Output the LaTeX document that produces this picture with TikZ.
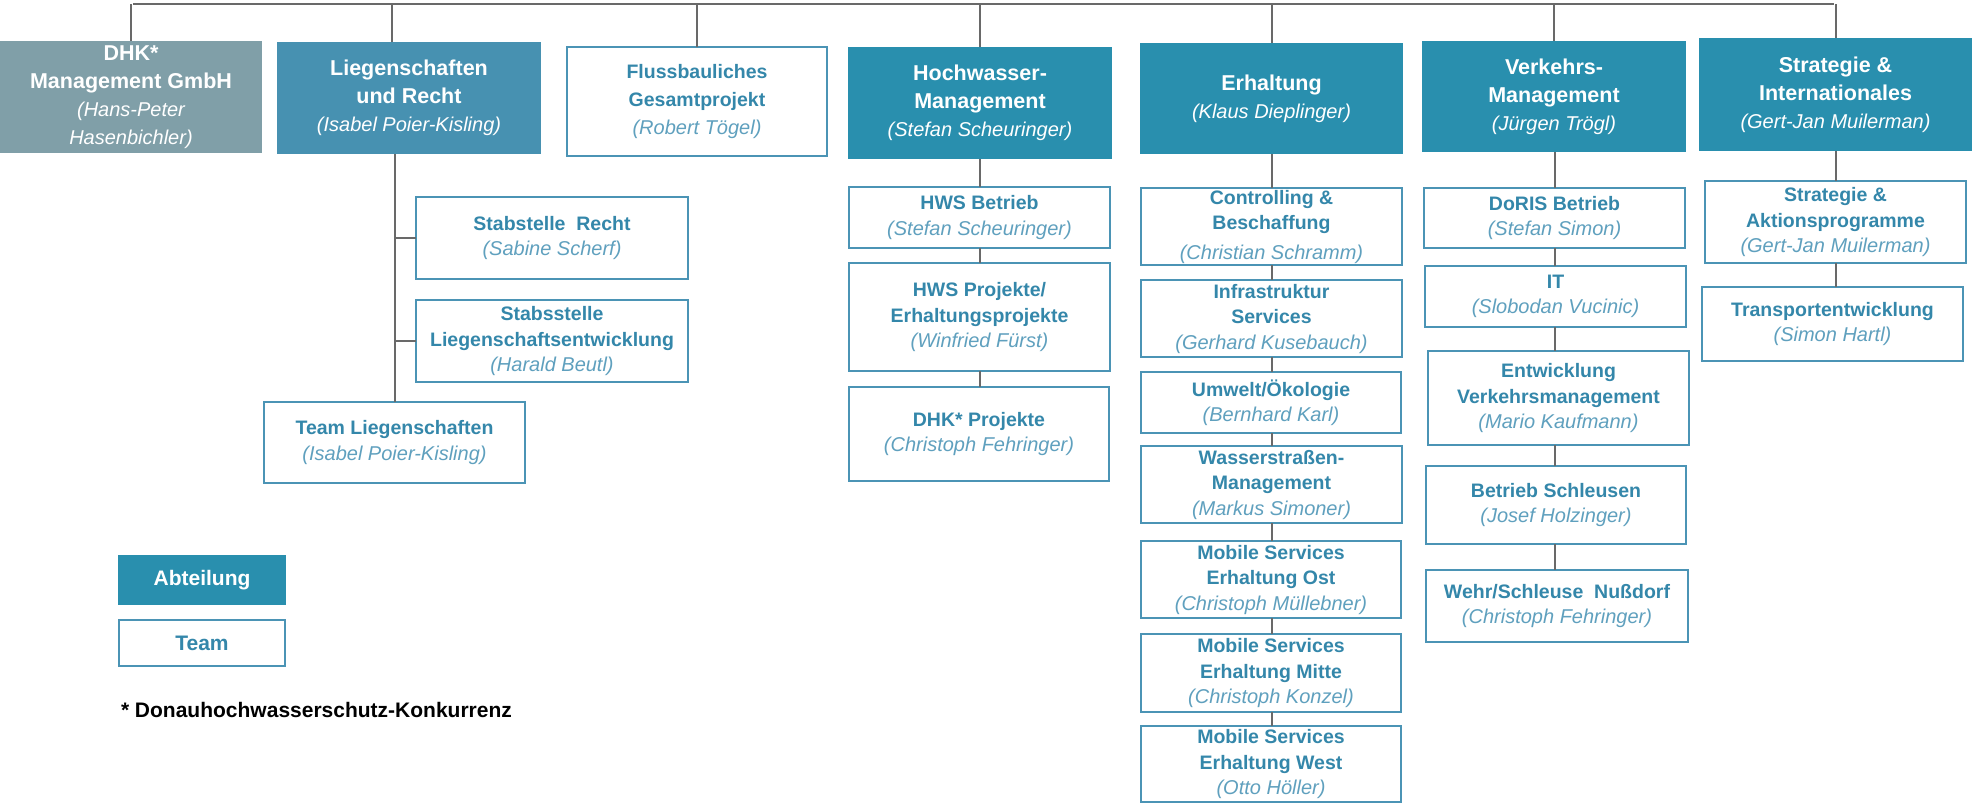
\documentclass[tikz,border=0pt]{standalone}
\usepackage{fontspec}
\setmainfont{Liberation Sans}
\definecolor{abt}{RGB}{41,143,174}
\definecolor{lieg}{RGB}{71,145,177}
\definecolor{dhkc}{RGB}{128,159,168}
\definecolor{tborder}{RGB}{75,148,181}
\definecolor{ttext}{RGB}{52,135,170}
\definecolor{ntext}{RGB}{95,160,190}
\definecolor{conn}{RGB}{105,105,105}
\newcommand\nmA[1]{{\mdseries\itshape\fontsize{20}{26}\selectfont #1}}
\newcommand\nmT[1]{{\mdseries\itshape\color{ntext}\fontsize{20}{26}\selectfont #1}}
\newcommand\bx[7]{\node[#2, minimum width={#5-#3}, minimum height={#6-#4}] (#1) at ({(#3+#5)/2},{(#4+#6)/2}) {#7};}
\begin{document}
\begin{tikzpicture}[x=1pt,y=-1pt,
  every node/.style={inner sep=0pt, outer sep=0pt, align=center, rectangle},
  deptbox/.style={fill=abt, text=white, font=\fontsize{21.5}{28}\selectfont\bfseries},
  liegbox/.style={deptbox, fill=lieg},
  dhkbox/.style={deptbox, fill=dhkc},
  teambox/.style={draw=tborder, line width=2.5pt, fill=white, text=ttext, font=\fontsize{19.5}{25.5}\selectfont\bfseries},
  fussbox/.style={teambox, font=\fontsize{19.5}{28}\selectfont\bfseries},
  link/.style={draw=conn, line width=2pt}
]
\useasboundingbox (0,0) rectangle (1972,804);

% bus
\coordinate (busL) at (133,4);
\coordinate (busR) at (1834,4);

% departments
\bx{dhk}{dhkbox}{0}{41}{262}{153}{DHK*\\Management GmbH\\\nmA{(Hans-Peter}\\\nmA{Hasenbichler)}}
\bx{lieg}{liegbox}{277}{42}{541}{154}{Liegenschaften\\und Recht\\\nmA{(Isabel Poier-Kisling)}}
\bx{fluss}{fussbox}{567}{47}{827}{156}{Flussbauliches\\Gesamtprojekt\\\nmT{(Robert Tögel)}}
\bx{hoch}{deptbox}{848}{47}{1112}{159}{Hochwasser-\\Management\\\nmA{(Stefan Scheuringer)}}
\bx{erh}{deptbox}{1140}{43}{1403}{154}{Erhaltung\\\nmA{(Klaus Dieplinger)}}
\bx{verk}{deptbox}{1422}{41}{1686}{152}{Verkehrs-\\Management\\\nmA{(Jürgen Trögl)}}
\bx{strat}{deptbox}{1699}{38}{1972}{151}{Strategie \&\\Internationales\\\nmA{(Gert-Jan Muilerman)}}

% Liegenschaften teams
\bx{recht}{teambox}{416}{197}{688}{279}{Stabstelle~~Recht\\\nmT{(Sabine Scherf)}}
\bx{lentw}{teambox}{416}{300}{688}{382}{Stabsstelle\\Liegenschaftsentwicklung\\\nmT{(Harald Beutl)}}
\bx{teaml}{teambox}{264}{402}{525}{483}{Team Liegenschaften\\\nmT{(Isabel Poier-Kisling)}}

% Hochwasser teams
\bx{hwsb}{teambox}{849}{187}{1110}{248}{HWS Betrieb\\\nmT{(Stefan Scheuringer)}}
\bx{hwsp}{teambox}{849}{263}{1110}{371}{HWS Projekte/\\Erhaltungsprojekte\\\nmT{(Winfried Fürst)}}
\bx{dhkp}{teambox}{849}{387}{1109}{481}{DHK* Projekte\\\nmT{(Christoph Fehringer)}}

% Erhaltung teams
\bx{ctrl}{teambox}{1141}{188}{1402}{265}{Controlling \&\\Beschaffung\\[4pt]\nmT{(Christian Schramm)}}
\bx{infra}{teambox}{1141}{280}{1402}{357}{Infrastruktur\\Services\\\nmT{(Gerhard Kusebauch)}}
\bx{umw}{teambox}{1141}{372}{1401}{433}{Umwelt/Ökologie\\\nmT{(Bernhard Karl)}}
\bx{wass}{teambox}{1141}{446}{1402}{523}{Wasserstraßen-\\Management\\\nmT{(Markus Simoner)}}
\bx{mso}{teambox}{1141}{541}{1401}{618}{Mobile Services\\Erhaltung Ost\\\nmT{(Christoph Müllebner)}}
\bx{msm}{teambox}{1141}{634}{1401}{712}{Mobile Services\\Erhaltung Mitte\\\nmT{(Christoph Konzel)}}
\bx{msw}{teambox}{1141}{726}{1401}{802}{Mobile Services\\Erhaltung West\\\nmT{(Otto Höller)}}

% Verkehr teams
\bx{doris}{teambox}{1424}{188}{1685}{248}{DoRIS Betrieb\\\nmT{(Stefan Simon)}}
\bx{it}{teambox}{1425}{266}{1686}{327}{IT\\\nmT{(Slobodan Vucinic)}}
\bx{entw}{teambox}{1428}{351}{1689}{445}{Entwicklung\\Verkehrsmanagement\\\nmT{(Mario Kaufmann)}}
\bx{schl}{teambox}{1426}{466}{1686}{544}{Betrieb Schleusen\\\nmT{(Josef Holzinger)}}
\bx{wehr}{teambox}{1426}{570}{1688}{642}{Wehr/Schleuse~~Nußdorf\\\nmT{(Christoph Fehringer)}}

% Strategie teams
\bx{sap}{teambox}{1705}{181}{1966}{263}{Strategie \&\\Aktionsprogramme\\\nmT{(Gert-Jan Muilerman)}}
\bx{trans}{teambox}{1702}{287}{1963}{361}{Transportentwicklung\\\nmT{(Simon Hartl)}}

% legend
\bx{legA}{deptbox}{118}{555}{286}{605}{\fontsize{21}{26}\selectfont Abteilung}
\bx{legT}{teambox}{119}{620}{285}{666}{\fontsize{21}{26}\selectfont Team}
\node[anchor=west, font=\fontsize{21}{26}\selectfont\bfseries, text=black] (fn) at (121,710) {* Donauhochwasserschutz-Konkurrenz};

% connectors
\draw[link] (busL) -- (busR);
\draw[link] (dhk.north) -- (dhk.north |- busL);
\draw[link] ([xshift=-17pt]lieg.north) -- ([xshift=-17pt]lieg.north |- busL);
\draw[link] (fluss.north) -- (fluss.north |- busL);
\draw[link] (hoch.north) -- (hoch.north |- busL);
\draw[link] (erh.north) -- (erh.north |- busL);
\draw[link] (verk.north) -- (verk.north |- busL);
\draw[link] (strat.north) -- (strat.north |- busL);

\draw[link] (teaml.north) -- (teaml.north |- lieg.south);
\draw[link] (recht.west) -- (recht.west -| teaml.north);
\draw[link] (lentw.west) -- (lentw.west -| teaml.north);

\draw[link] (hoch.south) -- (hoch.south |- hwsb.north);
\draw[link] (hwsb.south -| hoch.south) -- (hwsp.north -| hoch.south);
\draw[link] (hwsp.south -| hoch.south) -- (dhkp.north -| hoch.south);

\draw[link] (erh.south) -- (erh.south |- ctrl.north);
\draw[link] (ctrl.south -| erh.south) -- (infra.north -| erh.south);
\draw[link] (infra.south -| erh.south) -- (umw.north -| erh.south);
\draw[link] (umw.south -| erh.south) -- (wass.north -| erh.south);
\draw[link] (wass.south -| erh.south) -- (mso.north -| erh.south);
\draw[link] (mso.south -| erh.south) -- (msm.north -| erh.south);
\draw[link] (msm.south -| erh.south) -- (msw.north -| erh.south);

\draw[link] (doris.north) -- (doris.north |- verk.south);
\draw[link] (doris.south) -- (it.north -| doris.south);
\draw[link] (it.south -| doris.south) -- (entw.north -| doris.south);
\draw[link] (entw.south -| doris.south) -- (schl.north -| doris.south);
\draw[link] (schl.south -| doris.south) -- (wehr.north -| doris.south);

\draw[link] (sap.north) -- (sap.north |- strat.south);
\draw[link] (sap.south) -- (trans.north -| sap.south);
\end{tikzpicture}
\end{document}
